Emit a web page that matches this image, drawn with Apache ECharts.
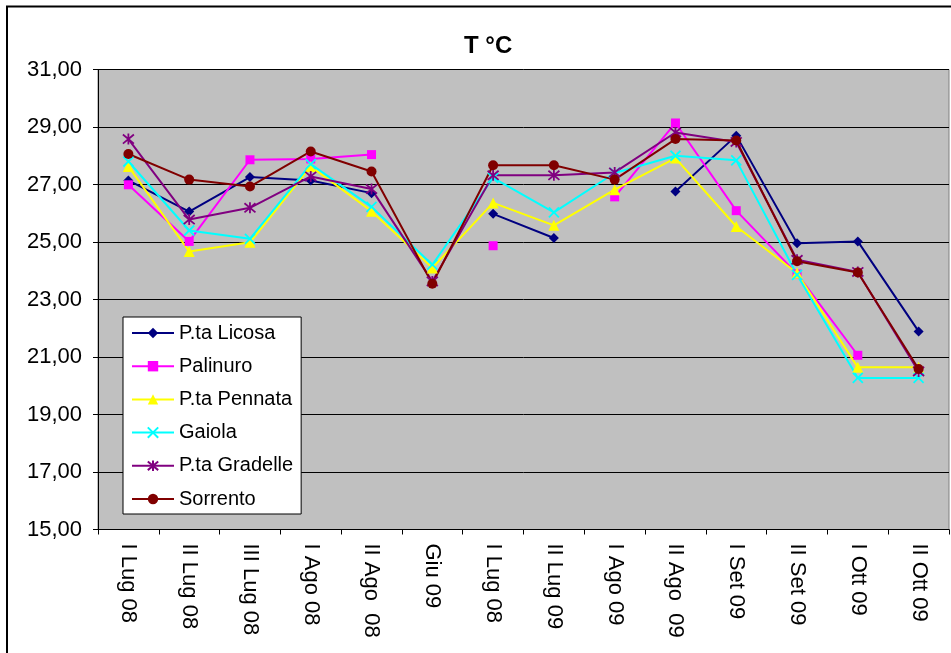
<!DOCTYPE html>
<html>
<head>
<meta charset="utf-8">
<script src="https://cdn.jsdelivr.net/npm/echarts@6/dist/echarts.min.js"></script>
<style>
html,body{margin:0;padding:0;background:#fff;}
#chart{width:951px;height:653px;}
</style>
</head>
<body>
<div id="chart"></div>
<script>
const categories = ['I Lug 08','II Lug 08','III Lug 08','I Ago 08','II Ago  08','Giu 09','I Lug 08','II Lug 09','I Ago 09','II Ago  09','I Set 09','II Set 09','I Ott 09','II Ott 09'];
const seriesNames = ['P.ta Licosa','Palinuro','P.ta Pennata','Gaiola','P.ta Gradelle','Sorrento'];
const licosa   = [27.14, 26.06, 27.26, 27.14, 26.70, null, 25.98, 25.14, null, 26.76, 28.70, 24.96, 25.02, 21.89];
const palinuro = [26.99, 25.02, 27.86, 27.89, 28.04, null, 24.87, null, 26.57, 29.14, 26.09, 23.89, 21.06, null];
const pennata  = [27.63, 24.67, 24.99, 27.63, 26.07, 24.10, 26.36, 25.58, 26.82, 27.92, 25.54, 23.92, 20.64, 20.64];
const gaiola   = [27.80, 25.40, 25.11, 27.71, 26.22, 24.21, 27.23, 26.03, 27.40, 28.00, 27.84, 23.86, 20.27, 20.27];
const gradelle = [28.58, 25.78, 26.19, 27.28, 26.84, 23.63, 27.32, 27.32, 27.42, 28.81, 28.48, 24.38, 23.96, 20.50];
const sorrento = [28.06, 27.17, 26.93, 28.15, 27.45, 23.55, 27.67, 27.67, 27.17, 28.58, 28.53, 24.33, 23.94, 20.58];
const yMin = 15, yMax = 31, yStep = 2;

const FONT = '"Liberation Sans", Arial, sans-serif';
const seriesData = [licosa, palinuro, pennata, gaiola, gradelle, sorrento];
const colors = ['#000080','#FF00FF','#FFFF00','#00FFFF','#800080','#800000'];
const symbols = [
  'diamond',
  'rect',
  'triangle',
  'path://M0,0L10,10M10,0L0,10',
  'path://M0,0L10,10M10,0L0,10M5,-1L5,11',
  'circle'
];
const sizes = [10, 9, 11, 10, 11, 10];

const series = seriesNames.map((name, i) => {
  const stroked = symbols[i].startsWith('path://');
  return {
    name: name,
    type: 'line',
    data: seriesData[i],
    connectNulls: false,
    symbol: symbols[i],
    symbolSize: sizes[i],
    showAllSymbol: true,
    lineStyle: {color: colors[i], width: 2},
    itemStyle: {color: colors[i], borderColor: colors[i], borderWidth: stroked ? 1.8 : 0},
    emphasis: {disabled: true},
    animation: false
  };
});

const chart = echarts.init(document.getElementById('chart'), null, {renderer: 'canvas'});
chart.setOption({
  animation: false,
  backgroundColor: '#ffffff',
  title: {
    text: 'T °C',
    left: 459, top: 29,
    textStyle: {fontFamily: FONT, fontSize: 24, fontWeight: 'bold', color: '#000'}
  },
  graphic: [{
    type: 'rect', silent: true, z: 100,
    shape: {x: 7, y: 6.5, width: 980, height: 680},
    style: {fill: 'none', stroke: '#000', lineWidth: 2}
  }],
  legend: {
    orient: 'vertical',
    left: 123, top: 317,
    padding: [6, 8, 5, 8],
    itemWidth: 42, itemHeight: 13, itemGap: 13.2,
    backgroundColor: '#ffffff',
    borderColor: '#000', borderWidth: 1, borderRadius: 0,
    textStyle: {fontFamily: FONT, fontSize: 20, color: '#000', lineHeight: 20},
    data: seriesNames
  },
  grid: {
    left: 98, right: 2, top: 69.5, bottom: 123.5,
    show: true, backgroundColor: '#C0C0C0', borderColor: '#808080', borderWidth: 1
  },
  xAxis: {
    type: 'category',
    data: categories,
    boundaryGap: true,
    axisLine: {show: true, lineStyle: {color: '#000', width: 1}},
    axisTick: {show: true, alignWithLabel: false, length: 5, lineStyle: {color: '#000'}},
    axisLabel: {rotate: -90, margin: 14, interval: 0, fontFamily: FONT, fontSize: 22, color: '#000'},
    splitLine: {show: false}
  },
  yAxis: {
    type: 'value',
    min: yMin, max: yMax, interval: yStep,
    axisLine: {show: true, lineStyle: {color: '#000', width: 1}},
    axisTick: {show: true, inside: false, length: 5, lineStyle: {color: '#000'}},
    axisLabel: {margin: 16, fontFamily: FONT, fontSize: 22, color: '#000',
      formatter: v => v.toFixed(2).replace('.', ',')},
    splitLine: {show: true, lineStyle: {color: '#000', width: 1}}
  },
  series: series
});
</script>
</body>
</html>
